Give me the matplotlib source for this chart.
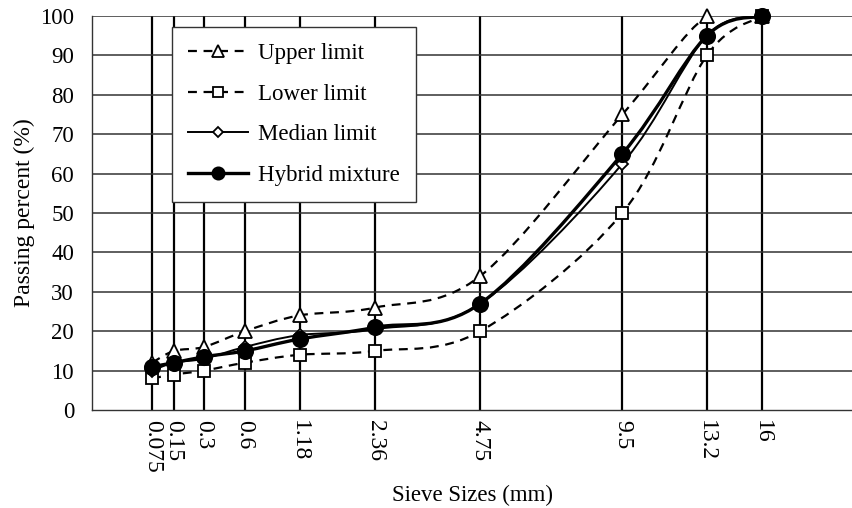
#!/usr/bin/env python3
"""
Gradation curve of the hybrid mixture against the specification envelope.
Sieve axis uses the 0.45 power scale; series are drawn as smoothed curves.
"""
import numpy as np
import matplotlib
matplotlib.use("Agg")
import matplotlib.pyplot as plt
from matplotlib.path import Path
from matplotlib.patches import PathPatch
from matplotlib.lines import Line2D

# --- data ---------------------------------------------------------------------------------------
SIEVES = [0.075, 0.15, 0.3, 0.6, 1.18, 2.36, 4.75, 9.5, 13.2, 16]
SIEVE_LABELS = ["0.075", "0.15", "0.3", "0.6", "1.18", "2.36", "4.75", "9.5", "13.2", "16"]
UPPER = [12, 15, 16, 20, 24, 26, 34, 75, 100, 100]
LOWER = [8, 9, 10, 12, 14, 15, 20, 50, 90, 100]
MEDIAN = [10, 12, 13, 16, 19, 20.5, 27, 62.5, 95, 100]
HYBRID = [11, 12, 13.5, 15, 18, 21, 27, 65, 95, 100]

POWER = 0.45
X_MAX = 21.2
FS = 16.5          # horizontal text
FS_ROT = 17        # rotated text (tick labels on x, y-axis title)

plt.rcParams["font.family"] = ["Liberation Serif", "DejaVu Serif"]


def fwd(x):
    return np.power(np.clip(x, 0, None), POWER)


def inv(x):
    return np.power(np.clip(x, 0, None), 1 / POWER)


def smooth_path(ax, xs, ys):
    """Bezier path through the points (Catmull-Rom style), in axes coordinates."""
    pts = ax.transData.transform(np.column_stack([xs, ys]))
    n = len(pts)
    verts = [pts[0]]
    codes = [Path.MOVETO]
    for i in range(n - 1):
        p0 = pts[i - 1] if i > 0 else pts[i]
        p1, p2 = pts[i], pts[i + 1]
        p3 = pts[i + 2] if i + 2 < n else pts[i + 1]
        verts += [p1 + (p2 - p0) / 6, p2 - (p3 - p1) / 6, p2]
        codes += [Path.CURVE4] * 3
    verts = ax.transAxes.inverted().transform(np.array(verts))
    return Path(verts, codes)


# series: values, line style, line width, marker, marker size, marker face
SERIES = [
    ("Upper limit", UPPER, (0, (4, 3)), 1.6, "^", 10, "white"),
    ("Lower limit", LOWER, (0, (4, 3)), 1.6, "s", 9, "white"),
    ("Median limit", MEDIAN, "-", 1.4, "D", 6, "white"),
    ("Hybrid mixture", HYBRID, "-", 2.4, "o", 11, "black"),
]

fig = plt.figure(figsize=(8.53, 5.08), dpi=100)
ax = fig.add_axes([0.108, 0.193, 0.892, 0.7755])
ax.set_xscale("function", functions=(fwd, inv))
ax.set_xlim(0, X_MAX)
ax.set_ylim(0, 100)

# grid: heavy verticals at each sieve, lighter horizontals every 10 %
for s in SIEVES:
    ax.axvline(s, color="black", lw=1.6, zorder=1)
for y in range(10, 101, 10):
    ax.axhline(y, color="#333333", lw=1.1, zorder=1)

for sp in ("top", "right"):
    ax.spines[sp].set_visible(False)
for sp in ("left", "bottom"):
    ax.spines[sp].set_linewidth(1.0)
    ax.spines[sp].set_color("#333333")

handles = []
for label, vals, ls, lw, mk, ms, face in SERIES:
    patch = PathPatch(smooth_path(ax, SIEVES, vals), transform=ax.transAxes,
                      fill=False, edgecolor="black", lw=lw, linestyle=ls, zorder=3)
    ax.add_patch(patch)
    ax.plot(SIEVES, vals, ls="none", marker=mk, ms=ms, mfc=face, mec="black",
            mew=1.3, zorder=4, clip_on=False)
    handles.append(Line2D([], [], color="black", lw=lw, linestyle=ls, marker=mk,
                          ms=ms * 0.8, mfc=face, mec="black", mew=1.3))

ax.set_xticks(SIEVES)
ax.set_xticklabels(SIEVE_LABELS, rotation=270, fontsize=FS_ROT)
ax.set_yticks(range(0, 101, 10))
ax.tick_params(axis="x", length=0, pad=7)
ax.tick_params(axis="y", length=0, pad=13, labelsize=FS)
ax.set_xlabel("Sieve Sizes (mm)", fontsize=FS, labelpad=9)
ax.set_ylabel("Passing percent (%)", fontsize=FS_ROT, labelpad=4)

leg = ax.legend(handles, [s[0] for s in SERIES], loc="upper left",
                bbox_to_anchor=(0.105, 0.972), fontsize=FS, numpoints=1,
                frameon=True, fancybox=False, framealpha=1, edgecolor="#333333",
                handlelength=2.6, handletextpad=0.45, labelspacing=0.85,
                borderpad=0.7, borderaxespad=0)
leg.get_frame().set_linewidth(1.0)

fig.savefig("out.png", dpi=100, facecolor="white")
plt.close(fig)
